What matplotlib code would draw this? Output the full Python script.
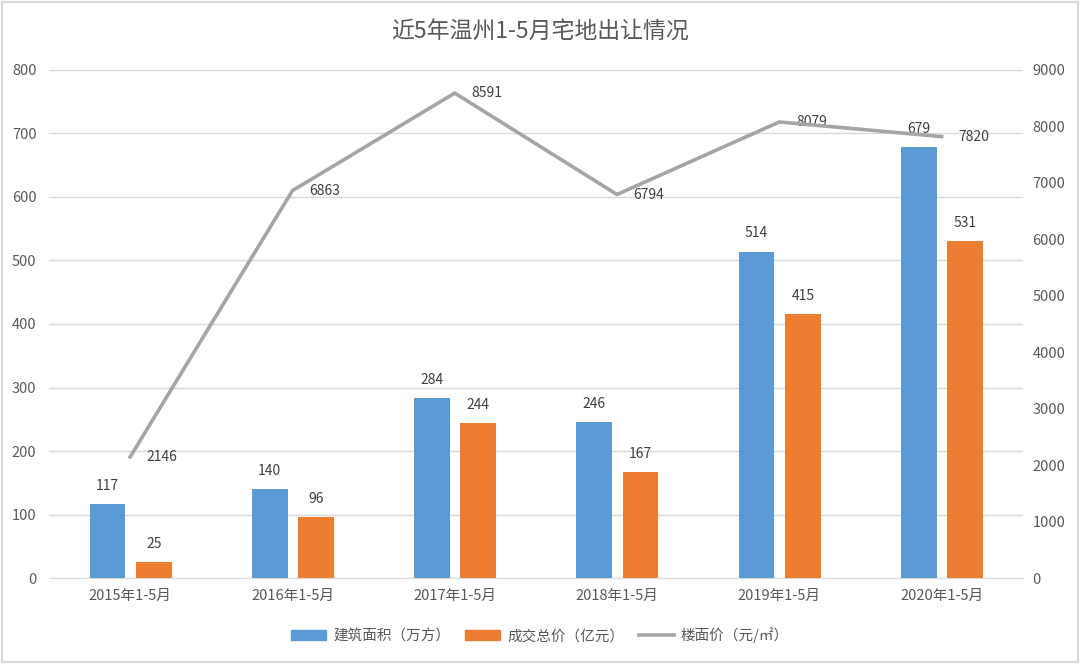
import matplotlib.pyplot as plt
import matplotlib.patches as patches
from matplotlib.lines import Line2D
import numpy as np

plt.rcParams['font.family'] = ['Noto Sans CJK SC', 'DejaVu Sans']

# --- data ---
categories = ['2015年1-5月', '2016年1-5月', '2017年1-5月', '2018年1-5月', '2019年1-5月', '2020年1-5月']
area = [117, 140, 284, 246, 514, 679]        # 建筑面积（万方）
total = [25, 96, 244, 167, 415, 531]         # 成交总价（亿元）
price = [2146, 6863, 8591, 6794, 8079, 7820]  # 楼面价（元/㎡）

blue = '#5B9BD5'
orange = '#ED7D31'
grey = '#A5A5A5'
txt = '#595959'

fig = plt.figure(figsize=(10.8, 6.64), dpi=100)
ax = fig.add_axes([0.0454, 0.1295, 0.9016, 0.7651])
ax2 = ax.twinx()

x = np.arange(len(categories))
w = 0.22
ax.bar(x - 0.14, area, w, color=blue, zorder=3)
ax.bar(x + 0.145, total, w, color=orange, zorder=3)

# bar value labels
for xi, v in zip(x, area):
    ax.annotate(str(v), (xi - 0.14, v), xytext=(0, 8), textcoords='offset points',
                ha='center', va='bottom', fontsize=10, color='#404040')
for xi, v in zip(x, total):
    ax.annotate(str(v), (xi + 0.145, v), xytext=(0, 8), textcoords='offset points',
                ha='center', va='bottom', fontsize=10, color='#404040')

ax2.plot(x, price, color=grey, lw=2.6, zorder=4)
for xi, v in zip(x, price):
    ax2.annotate(str(v), (xi, v), xytext=(12, 0), textcoords='offset points',
                 ha='left', va='center', fontsize=10, color='#404040')

ax.set_xlim(-0.5, len(categories) - 0.5)
ax.set_ylim(0, 800)
ax.set_yticks(range(0, 801, 100))
ax2.set_ylim(0, 9000)
ax2.set_yticks(range(0, 9001, 1000))
ax.set_xticks(x)
ax.set_xticklabels(categories)

ax.grid(axis='y', color='#D9D9D9', lw=1, zorder=0)
ax.set_axisbelow(True)
for a in (ax, ax2):
    for s in a.spines.values():
        s.set_visible(False)
    a.tick_params(length=0, colors=txt, labelsize=10.5)
ax.spines['bottom'].set_visible(True)
ax.spines['bottom'].set_color('#D9D9D9')
ax.tick_params(axis='y', pad=9)
ax2.tick_params(axis='y', pad=7)
ax.tick_params(axis='x', pad=8)

fig.text(0.5, 0.952, '近5年温州1-5月宅地出让情况', ha='center', va='center',
         fontsize=16.5, color=txt)

handles = [patches.Patch(color=blue, label='建筑面积（万方）'),
           patches.Patch(color=orange, label='成交总价（亿元）'),
           Line2D([0], [0], color=grey, lw=2.6, label='楼面价（元/㎡）')]
fig.legend(handles=handles, loc='center', bbox_to_anchor=(0.5, 0.043), ncol=3,
           frameon=False, fontsize=10.5, labelcolor=txt, handlelength=2.4,
           handleheight=0.7, columnspacing=1.0, handletextpad=0.5)

# thin frame around the whole picture
fig.patches.append(patches.Rectangle((0.002, 0.003), 0.996, 0.994, transform=fig.transFigure,
                                     fill=False, edgecolor='#D9D9D9', lw=1.5))

fig.savefig('out.png', dpi=100)
